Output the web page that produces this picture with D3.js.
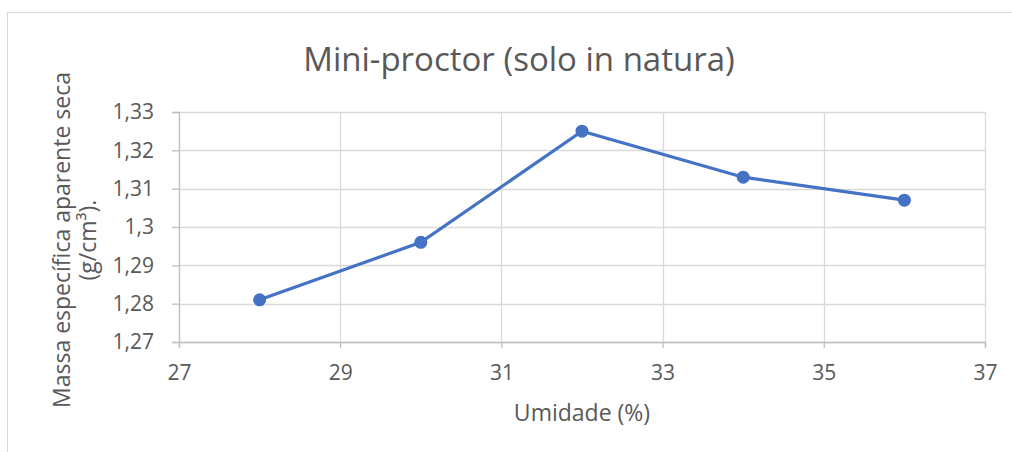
<!DOCTYPE html>
<html lang="pt">
<head>
<meta charset="UTF-8">
<title>Mini-proctor</title>
<script src="https://d3js.org/d3.v7.min.js"></script>
<style>
  body { margin: 0; background: #fff; }
  text { font-family: "Open Sans", "Noto Sans", sans-serif; fill: #595959; }
</style>
</head>
<body>
<div id="chart"></div>
<script>
// data
var umidade = [28, 30, 32, 34, 36];
var massa = [1.281, 1.296, 1.325, 1.313, 1.307];
var xTicks = [27, 29, 31, 33, 35, 37];
var yTicks = [1.27, 1.28, 1.29, 1.30, 1.31, 1.32, 1.33];

var W = 1012, H = 452;
var margin = {top: 112, right: 27, bottom: 110, left: 179};
var width = W - margin.left - margin.right,
    height = H - margin.top - margin.bottom;

var svg = d3.select("#chart").append("svg")
  .attr("width", W).attr("height", H);

// chart frame (runs off the picture on right/bottom)
svg.append("rect")
  .attr("x", 7.5).attr("y", 12.5)
  .attr("width", 1100).attr("height", 600)
  .attr("fill", "#fff").attr("stroke", "#d9d9d9");

var g = svg.append("g")
  .attr("transform", "translate(" + margin.left + "," + margin.top + ")");

var x = d3.scaleLinear().domain([27, 37]).range([0, width]);
var y = d3.scaleLinear().domain([1.27, 1.33]).range([height, 0]);

var fmt = function(d) { return d3.format(".2~f")(d).replace(".", ","); };

// gridlines
g.selectAll(".hgrid").data(yTicks).enter().append("line")
  .attr("x1", 0).attr("x2", width)
  .attr("y1", function(d) { return Math.round(y(d)) + 0.5; })
  .attr("y2", function(d) { return Math.round(y(d)) + 0.5; })
  .attr("stroke", "#d9d9d9").attr("stroke-width", 1.3);
g.selectAll(".vgrid").data(xTicks).enter().append("line")
  .attr("y1", 0).attr("y2", height)
  .attr("x1", function(d) { return Math.round(x(d)) + 0.5; })
  .attr("x2", function(d) { return Math.round(x(d)) + 0.5; })
  .attr("stroke", "#d9d9d9").attr("stroke-width", 1.3);

// axes
var yAxis = g.append("g")
  .call(d3.axisLeft(y).tickValues(yTicks).tickFormat(fmt).tickSize(7).tickPadding(18));
var xAxis = g.append("g")
  .attr("transform", "translate(0," + height + ")")
  .call(d3.axisBottom(x).tickValues(xTicks).tickFormat(d3.format("d")).tickSize(6).tickPadding(17));

[xAxis, yAxis].forEach(function(a) {
  a.selectAll(".domain, line").attr("stroke", "#bfbfbf").attr("stroke-width", 1.3);
  a.selectAll("text").style("font-size", "21px").attr("fill", "#595959")
    .style("font-family", "'Open Sans', sans-serif");
});

// series
var line = d3.line()
  .x(function(d, i) { return x(umidade[i]); })
  .y(function(d) { return y(d); });

g.append("path").datum(massa)
  .attr("d", line)
  .attr("fill", "none")
  .attr("stroke", "#4472c4")
  .attr("stroke-width", 3.2);

g.selectAll(".pt").data(massa).enter().append("circle")
  .attr("cx", function(d, i) { return x(umidade[i]); })
  .attr("cy", function(d) { return y(d); })
  .attr("r", 6.5)
  .attr("fill", "#4472c4");

// title
svg.append("text")
  .attr("x", 519).attr("y", 71)
  .attr("text-anchor", "middle")
  .style("font-size", "33px")
  .text("Mini-proctor (solo in natura)");

// axis titles
svg.append("text")
  .attr("x", 582).attr("y", 421)
  .attr("text-anchor", "middle")
  .style("font-size", "23px")
  .text("Umidade (%)");

var yt = svg.append("text")
  .attr("transform", "translate(70,240) rotate(-90)")
  .attr("text-anchor", "middle")
  .style("font-size", "23px");
yt.append("tspan").attr("x", 0).attr("dy", 0).text("Massa específica aparente seca");
yt.append("tspan").attr("x", 0).attr("dy", 26).text("(g/cm³).");
</script>
</body>
</html>
